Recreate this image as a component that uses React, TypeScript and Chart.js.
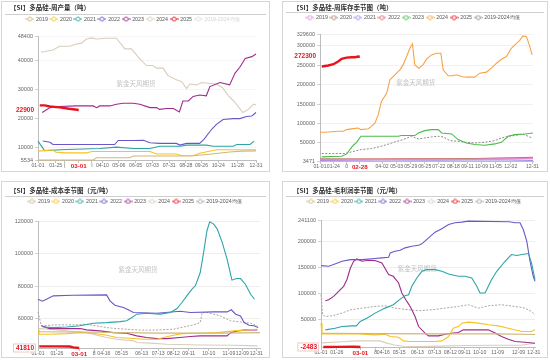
import React, { useEffect, useRef } from 'react';
import { Chart, registerables } from 'chart.js';

Chart.register(...registerables);

type Pt = [number, number];

const LEGEND_LABELS = ['2019', '2020', '2021', '2022', '2023', '2024', '2025', '2019-2024均值'];
const RED = '#e8141c';
const COLORS_A = ['#cfb67c', '#f8c220', '#2ea4a6', '#6b57c8', '#9e2c8b', '#d9cdbb', RED, '#a6a6a6'];
const COLORS_B = ['#e58ad6', '#b8826e', '#a088e6', '#e2606e', '#4cba4c', '#f9a245', RED, '#8c8c8c'];
const WATERMARK = '紫金天风期货';

// ---------- Panel 1: weekly production (t) ----------
const P1_TITLE = '【SI】多晶硅-周产量（吨）';
const P1_X_POS = [0, 29.5, 44.6, 68, 90, 107.6, 135, 163, 191, 219, 247, 273, 301, 333, 364];
const P1_X_LABELS = ['01-01', '01-25', '(', '03-01', 'I', '04-10', '05-06', '06-05', '07-03', '07-31', '08-28', '09-26', '10-24', '11-28', '12-31'];
const P1_Y_TICKS = [5534, 10000, 20000, 30000, 40000, 48400];
const P1_2019: Pt[] = [[0, 5534], [92, 5534], [98, 6300], [153, 6300], [159, 6900], [231, 6900], [260, 7000], [290, 7600], [320, 8300], [340, 8600], [364, 8700]];
const P1_2020: Pt[] = [[0, 8600], [25, 9000], [30, 8200], [47, 8000], [81, 8000], [90, 8500], [187, 8500], [198, 7600], [231, 7600], [240, 7000], [259, 7000], [270, 7900], [298, 9100], [364, 9100]];
const P1_2021: Pt[] = [[0, 12100], [11, 8800], [47, 9200], [103, 9500], [131, 10000], [159, 9500], [187, 9500], [203, 10300], [237, 10300], [248, 10700], [281, 10700], [293, 10300], [326, 10300], [332, 10900], [354, 10900], [361, 12100]];
const P1_2022: Pt[] = [[8, 12100], [20, 11700], [25, 10900], [128, 10900], [134, 12300], [159, 12300], [176, 12400], [187, 11500], [203, 11300], [231, 11300], [237, 10700], [248, 11300], [270, 11300], [277, 12700], [290, 16200], [298, 17900], [309, 19600], [326, 19900], [337, 19900], [348, 20600], [357, 20800], [364, 22000]];
const P1_2023: Pt[] = [[7, 22000], [20, 23700], [36, 24100], [64, 24300], [92, 24300], [98, 23700], [103, 24300], [120, 24300], [131, 24900], [142, 25200], [159, 25200], [170, 24900], [187, 23700], [198, 23700], [203, 23100], [215, 23400], [226, 23400], [236, 22200], [242, 26000], [251, 26000], [259, 27600], [270, 28100], [281, 27800], [287, 31000], [304, 32400], [320, 31600], [329, 35700], [337, 37700], [346, 40800], [357, 41400], [364, 42300]];
const P1_2024: Pt[] = [[5, 42900], [25, 43700], [36, 45000], [53, 45000], [64, 45800], [72, 46000], [81, 47500], [89, 47900], [98, 47500], [114, 47800], [131, 47800], [145, 44100], [156, 44100], [170, 40600], [181, 38300], [192, 38300], [198, 37400], [209, 37400], [217, 34800], [231, 33400], [240, 32700], [248, 30300], [254, 31900], [265, 31600], [273, 32400], [287, 32100], [298, 31900], [308, 30700], [318, 27800], [329, 25500], [342, 22000], [351, 23100], [360, 24900], [364, 24600]];
const P1_2025: Pt[] = [[3, 24500], [11, 24500], [20, 24100], [36, 23800], [52, 23300], [68, 22900]];
const P1_MEAN: Pt[] = [];

// ---------- Panel 2: weekly inventory (t) ----------
const P2_TITLE = '【SI】多晶硅-周库存季节图（吨）';
const P2_X_POS = [0, 22.8, 45.5, 68, 106, 131, 155, 179, 203, 228, 252, 276, 300, 326, 363];
const P2_X_LABELS = ['01-01', '01-24', '0', '02-28', '04-02', '05-03', '05-29', '06-25', '07-22', '08-18', '09-11', '10-09', '11-05', '12-02', '12-31'];
const P2_Y_TICKS = [3471, 50000, 100000, 150000, 200000, 250000, 300000, 329600];
const P2_2019: Pt[] = [[0, 6500], [60, 7000], [150, 7500], [250, 7500], [300, 9000], [364, 10000]];
const P2_2020: Pt[] = [[0, 9000], [100, 8000], [200, 8500], [300, 10000], [364, 11000]];
const P2_2021: Pt[] = [[0, 5000], [100, 6000], [200, 5500], [300, 6500], [364, 5000]];
const P2_2022: Pt[] = [[0, 7000], [60, 8500], [150, 9000], [250, 9000], [300, 11000], [330, 12000], [364, 13000]];
const P2_2023: Pt[] = [[3, 14000], [37, 15800], [45.5, 21800], [51, 33000], [57, 44100], [62.6, 51700], [70, 67200], [134, 67200], [139, 69000], [162, 69000], [168, 75700], [179, 81700], [190.6, 84300], [202, 84300], [208, 75700], [225, 73200], [236, 58600], [250, 50000], [264.6, 45800], [281.6, 44100], [298.7, 47500], [310, 51700], [321.5, 67200], [333, 71400], [350, 73200], [364, 75700]];
const P2_2024: Pt[] = [[0, 77400], [8.5, 77400], [31, 80000], [40, 80000], [45.5, 84300], [57, 86900], [65, 88600], [70, 84300], [82.5, 86500], [88, 92800], [94, 101400], [99.6, 122800], [105, 157000], [114, 178400], [119.5, 212700], [128, 225500], [136.6, 238400], [142, 251200], [148, 272600], [153.6, 294000], [158, 305100], [162, 251200], [169, 242600], [176, 251200], [182, 265800], [190.6, 276900], [199, 281200], [206.5, 281200], [210.5, 238400], [219, 223000], [227.6, 223000], [233, 225500], [242, 221200], [250, 219500], [264.6, 219500], [273, 229800], [284.5, 232400], [293, 242600], [301.6, 255500], [310, 265800], [318.6, 272600], [327, 294000], [335.7, 306800], [341, 313700], [347, 325700], [353, 324000], [358.5, 298300], [362.5, 276900]];
const P2_2025: Pt[] = [[3, 246900], [14, 249500], [23, 252900], [31, 259800], [37, 266600], [45.5, 270000], [54, 270900], [60, 270900], [65.5, 272600], [68, 272300]];
const P2_MEAN: Pt[] = [[3, 22700], [42.7, 22700], [54, 27000], [71, 33000], [88, 35500], [105, 41500], [119.5, 48300], [128, 52600], [142, 58600], [156.5, 67200], [168, 60300], [179, 62900], [190.6, 65500], [202, 67200], [210.5, 65500], [222, 56000], [236, 54100], [250, 51700], [264.6, 50000], [281.6, 51700], [298.7, 56000], [310, 62900], [321.5, 67200], [333, 69000], [347, 73200], [355.6, 67200], [362.5, 62900]];

// ---------- Panel 3: cost (yuan/t) ----------
const P3_TITLE = '【SI】多晶硅-成本季节图（元/吨）';
const P3_X_POS = [0, 31, 67.5, 92, 108, 137, 170, 197, 222, 247, 280, 313, 335, 358];
const P3_X_LABELS = ['01-01', '01-26', '03-01', '8', '04-16', '05-15', '06-13', '07-13', '08-12', '09-11', '10-10', '11-09', '12-09', '12-31'];
const P3_Y_TICKS = [60000, 80000, 100000, 120000];
const P3_2019: Pt[] = [[0, 51800], [100, 51500], [200, 51000], [300, 51000], [364, 51300]];
const P3_2020: Pt[] = [[1, 53000], [1.6, 50300], [19, 50300], [47, 50700], [69, 51300], [90.6, 50900], [112.5, 49700], [129, 48300], [151, 47800], [173, 47200], [195, 47200], [211, 48700], [222, 49700], [236, 50700], [266, 50900], [294, 51300], [321, 52400], [343, 53000], [359.6, 53400]];
const P3_2021: Pt[] = [[8, 54800], [25, 54400], [47, 54800], [69, 55500], [90.6, 57100], [112.5, 57500], [134.5, 58100], [145.5, 58600], [154, 60600], [162, 62700], [178, 63300], [200, 62700], [217, 63700], [228, 66200], [236, 69900], [244, 74000], [252.5, 78100], [258, 80200], [266, 88400], [272, 101800], [277, 114200], [281.6, 119700], [288, 118300], [294, 115200], [302, 107000], [310, 96700], [318, 83700], [325.6, 84700], [332, 84700], [340, 81200], [348.6, 75000], [355, 71900]];
const P3_2022: Pt[] = [[0, 71900], [7, 70700], [14, 71900], [25, 74000], [56.5, 74400], [112.5, 74600], [118, 70900], [126, 68200], [140, 66800], [148, 65400], [156.5, 63700], [195, 63300], [233, 64500], [250, 63700], [288, 64100], [310, 64100], [317, 65400], [324, 62700], [332, 61600], [338, 57500], [346, 55900], [354, 55500], [361, 54400]];
const P3_2023: Pt[] = [[5.5, 55500], [19, 53800], [69, 53800], [79.6, 53000], [101.6, 52400], [123.5, 51300], [145.5, 50900], [162, 49300], [178, 48300], [195, 47600], [211, 47600], [233, 48300], [250, 48900], [266, 49300], [310, 49300], [316, 51300], [326.6, 52400], [343, 53000], [359.6, 53000]];
const P3_2024: Pt[] = [[1, 53800], [19, 53400], [47, 52400], [80, 51300], [112, 48300], [129, 47200], [157, 46200], [162, 45200], [184, 44800], [211, 44100], [266, 43700], [321, 43500], [360, 43100]];
const P3_2025: Pt[] = [[2, 42800], [30, 42800], [52, 42700], [58, 42200], [67.5, 41810]];
const P3_MEAN: Pt[] = [[0, 64100], [5.5, 55500], [30, 56100], [63, 56100], [79.6, 56500], [96, 55500], [112.5, 54400], [129, 53800], [145.5, 53400], [162, 53000], [178, 52800], [200, 53000], [222, 53400], [239, 54800], [255, 56100], [266, 57500], [269, 63700], [277, 63700], [288, 62700], [299, 61600], [316, 58600], [332, 57900], [348.6, 57100], [359.6, 55500]];

// ---------- Panel 4: gross profit (yuan/t) ----------
const P4_TITLE = '【SI】多晶硅-毛利润季节图（元/吨）';
const P4_X_POS = [0, 27, 67, 93, 106, 133, 164, 193, 220, 244, 270, 300.5, 336, 362];
const P4_X_LABELS = ['01-01', '01-26', '03-01', '8', '04-16', '05-15', '06-13', '07-13', '08-12', '09-11', '10-10', '11-09', '12-09', '12-31'];
const P4_Y_TICKS = [50000, 100000, 150000, 200000, 241100];
const P4_2019: Pt[] = [[0, 24100], [100, 23200], [200, 22800], [300, 22800], [364, 21500]];
const P4_2020: Pt[] = [[0, 43400], [1.7, 22800], [64, 22800], [92, 20800], [109, 22100], [117.7, 17600], [132, 16300], [140, 9300], [149, 8000], [194, 8000], [205.5, 9300], [217, 17600], [225, 33700], [233.8, 36900], [239.4, 43400], [250.7, 45300], [267.7, 43400], [284.7, 40200], [301.7, 38200], [318.6, 33700], [341.3, 27300], [358, 27300], [364, 30500]];
const P4_2021: Pt[] = [[7.4, 30500], [24, 33700], [35.7, 36900], [52.6, 38200], [60, 38200], [66.8, 46600], [78, 53000], [92, 62700], [109, 72300], [123, 78800], [134.7, 89700], [143, 96100], [149, 98100], [154.5, 114200], [163, 130200], [171.5, 143100], [180, 146300], [194, 146300], [205.5, 143100], [217, 138000], [233.8, 133500], [245, 133500], [256.4, 130200], [265, 114200], [270.5, 101300], [279, 101300], [290, 127000], [299, 143100], [313, 162400], [324, 175300], [333, 173400], [341.6, 175300], [353, 177200], [358, 159200], [364, 127000]];
const P4_2022: Pt[] = [[0, 154000], [13, 152800], [21.5, 156000], [35.7, 162400], [50, 165600], [69.6, 165600], [92, 167600], [103.6, 168900], [115, 170100], [117.7, 178500], [126, 181700], [134.7, 183700], [143, 188200], [154.5, 191400], [166, 193300], [171.5, 195900], [183, 207500], [194, 218400], [205.5, 224800], [217, 233200], [228, 236400], [239.4, 237700], [250.7, 239600], [320.5, 238300], [330, 236400], [338.5, 236400], [344, 223500], [350, 201000], [355.5, 162400], [361, 133500], [364, 123800]];
const P4_2023: Pt[] = [[7.4, 86500], [13, 88400], [21.5, 94900], [30, 104500], [38.5, 114200], [44, 127000], [50, 149500], [55.5, 162400], [61, 166900], [69.6, 162400], [81, 164400], [92, 163700], [103.6, 159200], [115, 136700], [123, 133500], [132, 120600], [137.5, 101300], [146, 85200], [151.7, 75500], [160, 56200], [166, 36900], [177, 24100], [183, 18900], [200, 18900], [211, 22100], [222, 24100], [233.8, 25400], [242, 30500], [284.7, 30500], [297, 24100], [307, 17600], [318.6, 12500], [330, 8000], [347, 6700], [364, 4800]];
const P4_2024: Pt[] = [[2, 5500], [35, 7500], [60, 9300], [100, 9300], [112, 5000], [125, 1500], [140, -1000], [170, -1700], [200, -800], [250, 500], [300, 1000], [340, 1000], [364, 4800]];
const P4_2025: Pt[] = [[4, -2483], [30, -2300], [55, -2100], [67, -2483]];
const P4_MEAN: Pt[] = [[0, 98100], [2.8, 59500], [7.4, 56200], [18.7, 57500], [35.7, 62700], [50, 69100], [69.6, 72300], [92, 75500], [109, 76800], [126, 72300], [149, 69100], [166, 67200], [188.5, 69100], [211, 72300], [233.8, 75500], [250.7, 78800], [267.7, 72300], [284.7, 76800], [307, 78800], [330, 75500], [347, 72300], [358, 65900], [364, 59500]];

interface PanelDef {
  title: string;
  series: Pt[][];
  colors: string[];
  faintMean: boolean;
  yMin: number; yMax: number; yTicks: number[];
  xPos: number[]; xLabels: string[]; xHi: number;
  redValue: number; redText: string; redBox: boolean;
  box: { left: number; top: number; width: number; height: number };
  padL: number; padR: number; yWidth: number; xHeight: number;
  t1: number; t2: number; spacer: number; grid: string;
}

const PANELS: PanelDef[] = [
  {
    title: P1_TITLE, series: [P1_2019, P1_2020, P1_2021, P1_2022, P1_2023, P1_2024, P1_2025, P1_MEAN],
    colors: COLORS_A, faintMean: true,
    yMin: 5534, yMax: 48400, yTicks: P1_Y_TICKS,
    xPos: P1_X_POS, xLabels: P1_X_LABELS, xHi: 3,
    redValue: 22900, redText: '22900', redBox: false,
    box: { left: 1, top: 1, width: 269, height: 171 },
    padL: 8, padR: 13, yWidth: 28, xHeight: 11, t1: 2, t2: 2, spacer: 4.75, grid: '#f2f2f2',
  },
  {
    title: P2_TITLE, series: [P2_2019, P2_2020, P2_2021, P2_2022, P2_2023, P2_2024, P2_2025, P2_MEAN],
    colors: COLORS_B, faintMean: false,
    yMin: 3471, yMax: 329600, yTicks: P2_Y_TICKS,
    xPos: P2_X_POS, xLabels: P2_X_LABELS, xHi: 3,
    redValue: 272300, redText: '272300', redBox: false,
    box: { left: 282, top: 1, width: 266, height: 171 },
    padL: 10, padR: 14, yWidth: 27, xHeight: 10, t1: 2, t2: 0.5, spacer: 4.25, grid: '#eeeeee',
  },
  {
    title: P3_TITLE, series: [P3_2019, P3_2020, P3_2021, P3_2022, P3_2023, P3_2024, P3_2025, P3_MEAN],
    colors: COLORS_A, faintMean: false,
    yMin: 41810, yMax: 120000, yTicks: P3_Y_TICKS,
    xPos: P3_X_POS, xLabels: P3_X_LABELS, xHi: 2,
    redValue: 41810, redText: '41810', redBox: true,
    box: { left: 1, top: 181, width: 269, height: 177 },
    padL: 8, padR: 9, yWidth: 28, xHeight: 9, t1: 5, t2: 1.4, spacer: 7.25, grid: '#eaeaea',
  },
  {
    title: P4_TITLE, series: [P4_2019, P4_2020, P4_2021, P4_2022, P4_2023, P4_2024, P4_2025, P4_MEAN],
    colors: COLORS_A, faintMean: false,
    yMin: -2483, yMax: 241100, yTicks: P4_Y_TICKS,
    xPos: P4_X_POS, xLabels: P4_X_LABELS, xHi: 2,
    redValue: -2483, redText: '-2483', redBox: true,
    box: { left: 282, top: 181, width: 266, height: 177 },
    padL: 10, padR: 12, yWidth: 28, xHeight: 10, t1: 5, t2: 1.4, spacer: 6.25, grid: '#eaeaea',
  },
];

function makeMarker(color: string): HTMLCanvasElement {
  const c = document.createElement('canvas');
  c.width = 9;
  c.height = 6;
  const g = c.getContext('2d')!;
  g.strokeStyle = color;
  g.lineWidth = 0.9;
  g.beginPath();
  g.moveTo(0, 3);
  g.lineTo(9, 3);
  g.stroke();
  g.beginPath();
  g.arc(4.5, 3, 2, 0, Math.PI * 2);
  g.fillStyle = '#fff';
  g.fill();
  g.stroke();
  return c;
}

function PanelChart({ def }: { def: PanelDef }) {
  const ref = useRef<HTMLCanvasElement>(null);
  const cw = def.box.width - 2;
  const chh = def.box.height - 2;

  useEffect(() => {
    const canvas = ref.current!;
    const legendColors = def.colors.map((c, i) => (def.faintMean && i === 7 ? '#dedede' : c));
    const markers = legendColors.map((c) => makeMarker(c));

    const datasets = def.series.map((s, i) => ({
      label: LEGEND_LABELS[i],
      data: s.map(([x, y]) => ({ x, y })),
      borderColor: def.colors[i],
      backgroundColor: def.colors[i],
      borderWidth: i === 6 ? 2.4 : i === 7 ? 1 : 1.1,
      borderDash: i === 7 ? [2, 1.5] : [],
      pointRadius: 0,
      tension: 0,
      order: i === 6 ? 0 : 1,
      clip: false,
    }));

    const decor = {
      id: 'decor',
      beforeDatasetsDraw(chart: any) {
        const { ctx, chartArea: ca } = chart;
        ctx.save();
        ctx.font = '6.5px "Noto Sans CJK SC"';
        ctx.fillStyle = 'rgba(185,185,185,0.85)';
        ctx.textAlign = 'center';
        ctx.textBaseline = 'middle';
        ctx.fillText(WATERMARK, ca.left + ca.width * 0.45, ca.top + ca.height * 0.38);
        ctx.restore();
      },
      afterDraw(chart: any) {
        const { ctx, chartArea: ca } = chart;
        ctx.save();
        const yLine = Math.round(chart.titleBlock.bottom) + 0.5;
        ctx.strokeStyle = '#cfcfcf';
        ctx.lineWidth = 1;
        ctx.beginPath();
        ctx.moveTo(3, yLine);
        ctx.lineTo(chart.width - 3, yLine);
        ctx.stroke();

        const y = chart.scales.y.getPixelForValue(def.redValue);
        ctx.font = 'bold 6.5px Arial';
        const w = ctx.measureText(def.redText).width;
        const rx = ca.left - w - 7;
        ctx.fillStyle = '#fff';
        ctx.fillRect(rx, y - 4.5, w + 5, 9);
        if (def.redBox) {
          ctx.strokeStyle = '#f2b8b8';
          ctx.lineWidth = 0.8;
          ctx.strokeRect(rx + 0.5, y - 4, w + 4, 8);
        }
        ctx.fillStyle = RED;
        ctx.textAlign = 'right';
        ctx.textBaseline = 'middle';
        ctx.fillText(def.redText, ca.left - 4, y);
        ctx.restore();
      },
    };

    const chart = new Chart(canvas, {
      type: 'line',
      data: { datasets } as any,
      options: {
        responsive: false,
        animation: false,
        events: [],
        layout: { padding: { left: def.padL, right: def.padR, top: 0, bottom: 0 } },
        plugins: {
          title: {
            display: true,
            text: def.title,
            align: 'start',
            color: '#333',
            font: { family: '"Noto Sans CJK SC"', size: 6.5, weight: 'bold' },
            padding: { top: def.t1, bottom: def.t2 },
          },
          subtitle: {
            display: true,
            text: '',
            weight: 500,
            font: { size: 1, lineHeight: 1 },
            padding: { top: 0, bottom: def.spacer - 1 },
          },
          legend: {
            display: true,
            labels: {
              usePointStyle: true,
              pointStyleWidth: 7,
              boxHeight: 6,
              padding: 2.6,
              color: '#555',
              font: { family: 'Arial', size: 5.3 },
              generateLabels: (ch: any) =>
                ch.data.datasets.map((ds: any, i: number) => ({
                  text: ds.label,
                  fillStyle: legendColors[i],
                  strokeStyle: legendColors[i],
                  lineWidth: 1,
                  hidden: false,
                  datasetIndex: i,
                  pointStyle: markers[i],
                  fontColor: def.faintMean && i === 7 ? '#d4d4d4' : '#555',
                })),
            },
          },
          tooltip: { enabled: false },
        },
        scales: {
          x: {
            type: 'linear',
            min: 0,
            max: 364,
            afterBuildTicks: (sc: any) => {
              sc.ticks = def.xPos.map((v) => ({ value: v }));
            },
            afterFit: (sc: any) => {
              sc.height = def.xHeight;
            },
            ticks: {
              autoSkip: false,
              maxRotation: 0,
              minRotation: 0,
              padding: 0,
              font: (c: any) => ({ family: 'Arial', size: c.index === def.xHi ? 6.2 : 5.1, weight: c.index === def.xHi ? 'bold' : 'normal' }),
              color: (c: any) => (c.index === def.xHi ? RED : '#666'),
              callback: (_v: any, i: number) => def.xLabels[i],
            },
            grid: { drawOnChartArea: false, tickLength: 3, color: '#c4c4c4' },
            border: { color: '#bdbdbd' },
          },
          y: {
            type: 'linear',
            min: def.yMin,
            max: def.yMax,
            afterBuildTicks: (sc: any) => {
              sc.ticks = def.yTicks.map((v) => ({ value: v }));
            },
            afterFit: (sc: any) => {
              sc.width = def.yWidth;
            },
            ticks: {
              autoSkip: false,
              padding: 2,
              color: '#666',
              font: { family: 'Arial', size: 5.5 },
              callback: (v: any) => String(v),
            },
            grid: { color: def.grid, tickLength: 3, tickColor: '#c4c4c4', lineWidth: 0.8 },
            border: { color: '#bdbdbd' },
          },
        },
      } as any,
      plugins: [decor as any],
    });
    return () => chart.destroy();
  }, []);

  return (
    <div
      style={{
        position: 'absolute',
        left: def.box.left,
        top: def.box.top,
        width: def.box.width,
        height: def.box.height,
        border: '1px solid #d6d6d6',
        boxSizing: 'border-box',
        background: '#fff',
      }}
    >
      <canvas ref={ref} width={cw} height={chh} style={{ display: 'block', width: cw, height: chh }} />
    </div>
  );
}

export default function App() {
  return (
    <div style={{ position: 'fixed', left: 0, top: 0, width: 550, height: 360, background: '#fff', overflow: 'hidden' }}>
      {PANELS.map((p, i) => (
        <PanelChart key={i} def={p} />
      ))}
    </div>
  );
}
